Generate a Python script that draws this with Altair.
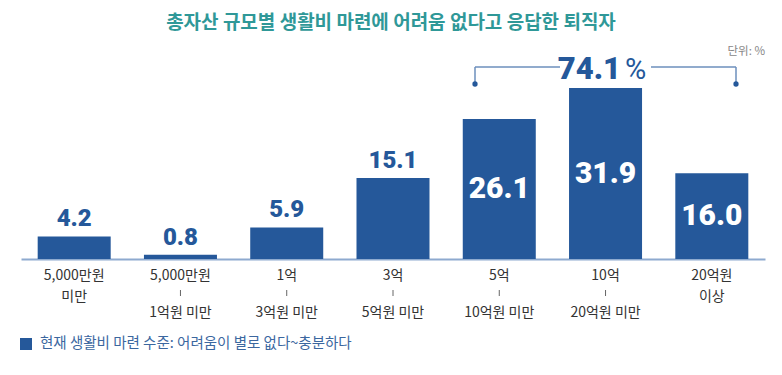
import altair as alt
import pandas as pd

# ---- data ----
categories = ["5,000만원 미만", "5,000만원~1억원 미만", "1억~3억원 미만", "3억~5억원 미만",
              "5억~10억원 미만", "10억~20억원 미만", "20억원 이상"]
values = [4.2, 0.8, 5.9, 15.1, 26.1, 31.9, 16.0]
top_lines = ["5,000만원", "5,000만원", "1억", "3억", "5억", "10억", "20억원"]
bottom_lines = ["미만", "1억원 미만", "3억원 미만", "5억원 미만", "10억원 미만", "20억원 미만", "이상"]
has_separator = [False, True, True, True, True, True, False]
label_inside = [False, False, False, False, True, True, True]
total_label = "74.1"
title_text = "총자산 규모별 생활비 마련에 어려움 없다고 응답한 퇴직자"
unit_text = "단위: %"
legend_text = "현재 생활비 마련 수준: 어려움이 별로 없다~충분하다"

df = pd.DataFrame({
    "category": categories,
    "value": values,
    "top": top_lines,
    "bottom": bottom_lines,
    "sep": has_separator,
    "inside": label_inside,
})
df["label"] = [f"{v:.1f}" for v in values]

BLUE = "#25589a"
NUM_FONT = "Roboto"
KR_FONT = "Noto Sans CJK KR"

x_scale = alt.Scale(paddingInner=0.313, paddingOuter=0.157)
y_scale = alt.Scale(domain=[0, 46.83], nice=False, zero=True)
x_axis = alt.Axis(title=None, labels=False, ticks=False, grid=False,
                  domainColor="#8eaacf", domainWidth=2)

def X():
    return alt.X("category:N", sort=categories, scale=x_scale, axis=x_axis)

base = alt.Chart(df)

bars = base.mark_bar(color=BLUE).encode(
    x=X(), y=alt.Y("value:Q", scale=y_scale, axis=None))

out_labels = base.transform_filter("!datum.inside").mark_text(
    font=NUM_FONT, fontWeight=900, fontSize=24, color=BLUE,
    baseline="middle", dy=-17).encode(
    x=X(), y=alt.Y("value:Q", scale=y_scale, axis=None), text="label:N")

in_labels = base.transform_filter("datum.inside").transform_calculate(
    half="datum.value / 2").mark_text(
    font=NUM_FONT, fontWeight=900, fontSize=30, color="white",
    baseline="middle").encode(
    x=X(), y=alt.Y("half:Q", scale=y_scale, axis=None), text="label:N")

LBL = dict(font=KR_FONT, fontSize=14, color="#333333", baseline="middle")
line1 = base.mark_text(**LBL).encode(x=X(), y=alt.value(268), text="top:N")
line2 = base.transform_filter("!datum.sep").mark_text(**LBL).encode(
    x=X(), y=alt.value(289), text="bottom:N")
line3 = base.transform_filter("datum.sep").mark_text(**LBL).encode(
    x=X(), y=alt.value(305), text="bottom:N")
seps = base.transform_filter("datum.sep").mark_rule(color="#666666", strokeWidth=1).encode(
    x=X(), y=alt.value(282), y2=alt.value(288))

one = alt.Data(values=[{"k": 1}])

title = alt.Chart(one).mark_text(
    text=title_text, font=KR_FONT, fontSize=19, fontWeight="bold",
    color="#2f9898", align="center", baseline="middle").encode(
    x=alt.value(370), y=alt.value(15))

unit = alt.Chart(one).mark_text(
    text=unit_text, font=KR_FONT, fontSize=11.5, color="#888888",
    align="right", baseline="middle").encode(x=alt.value(744), y=alt.value(44))

BR = dict(color="#6d8fbd", strokeWidth=1.5)
br_left = alt.Chart(one).mark_rule(**BR).encode(
    x=alt.value(454), x2=alt.value(539), y=alt.value(59))
br_right = alt.Chart(one).mark_rule(**BR).encode(
    x=alt.value(630), x2=alt.value(715), y=alt.value(59))
br_v1 = alt.Chart(one).mark_rule(**BR).encode(
    x=alt.value(454), y=alt.value(59), y2=alt.value(76))
br_v2 = alt.Chart(one).mark_rule(**BR).encode(
    x=alt.value(715), y=alt.value(59), y2=alt.value(76))
dot1 = alt.Chart(one).mark_circle(color=BLUE, size=28, opacity=1).encode(
    x=alt.value(454), y=alt.value(76))
dot2 = alt.Chart(one).mark_circle(color=BLUE, size=28, opacity=1).encode(
    x=alt.value(715), y=alt.value(76))
total = alt.Chart(one).mark_text(
    text=total_label, font=NUM_FONT, fontWeight=900, fontSize=31, color=BLUE,
    align="right", baseline="middle").encode(x=alt.value(600), y=alt.value(62))
pct = alt.Chart(one).mark_text(
    text="%", font=NUM_FONT, fontSize=29, fontWeight="normal", color=BLUE,
    align="left", baseline="middle").encode(x=alt.value(604), y=alt.value(62))

legend_sq = alt.Chart(one).mark_rect(color=BLUE).encode(
    x=alt.value(-1), x2=alt.value(11), y=alt.value(330), y2=alt.value(342))
legend_txt = alt.Chart(one).mark_text(
    text=legend_text, font=KR_FONT, fontSize=14.5, color="#3b679f",
    align="left", baseline="middle").encode(x=alt.value(19), y=alt.value(336))

chart = alt.layer(
    bars, out_labels, in_labels, line1, line2, line3, seps,
    title, unit, br_left, br_right, br_v1, br_v2, dot1, dot2, total, pct,
    legend_sq, legend_txt,
).properties(
    width=744, height=251,
    padding={"left": 13, "top": 0, "right": 9, "bottom": 108},
    autosize=alt.AutoSizeParams(type="none"),
).configure_view(stroke=None)

chart.save("out.html", embed_options={"renderer": "svg", "actions": False})
